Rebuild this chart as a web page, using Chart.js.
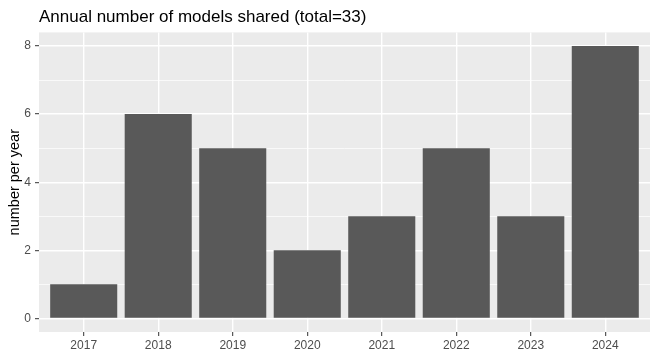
<!DOCTYPE html>
<html>
<head>
<meta charset="utf-8">
<script src="https://cdn.jsdelivr.net/npm/chart.js@4/dist/chart.umd.min.js"></script>
<style>html,body{margin:0;padding:0;background:#fff;}canvas{display:block;}</style>
</head>
<body>
<canvas id="c" width="658" height="358"></canvas>
<script>
const years = [2017, 2018, 2019, 2020, 2021, 2022, 2023, 2024];
const counts = [1, 6, 5, 2, 3, 5, 3, 8];
const yTicks = [0, 1, 2, 3, 4, 5, 6, 7, 8];
const titleText = 'Annual number of models shared (total=33)';
const yTitle = 'number per year';

const bgPlugin = {
  id: 'bg',
  beforeDraw(chart) {
    const {ctx, chartArea: a} = chart;
    ctx.save();
    ctx.fillStyle = '#ffffff';
    ctx.fillRect(0, 0, chart.width, chart.height);
    ctx.fillStyle = '#EBEBEB';
    ctx.fillRect(a.left, a.top, a.right - a.left, a.bottom - a.top);
    ctx.restore();
  }
};

new Chart(document.getElementById('c'), {
  type: 'bar',
  data: {
    datasets: [{
      data: years.map((y, i) => ({x: y, y: counts[i]})),
      backgroundColor: '#595959',
      borderWidth: 0,
      barPercentage: 0.9,
      categoryPercentage: 1.0
    }]
  },
  options: {
    responsive: false,
    devicePixelRatio: 1,
    animation: false,
    layout: {padding: {left: 0, right: 8, top: 0, bottom: 0}},
    plugins: {
      legend: {display: false},
      tooltip: {enabled: false},
      title: {
        display: true,
        text: titleText,
        align: 'start',
        fullSize: false,
        color: '#000000',
        font: {family: 'Liberation Sans', size: 17, weight: 'normal', lineHeight: 1.2},
        padding: {top: 7, bottom: 5}
      }
    },
    scales: {
      x: {
        type: 'linear',
        min: 2016.4,
        max: 2024.6,
        offset: false,
        afterBuildTicks(s) { s.ticks = years.map(v => ({value: v})); },
        afterFit(s) { s.height = 26; },
        ticks: {
          color: '#4D4D4D',
          font: {family: 'Liberation Sans', size: 12},
          padding: 2,
          maxRotation: 0,
          autoSkip: false,
          callback: v => String(v)
        },
        grid: {
          offset: false,
          color: '#ffffff',
          lineWidth: 1.4,
          tickColor: '#333333',
          tickLength: 4,
          tickWidth: 1
        },
        border: {display: false}
      },
      y: {
        type: 'linear',
        min: -0.4,
        max: 8.4,
        afterBuildTicks(s) { s.ticks = yTicks.map(v => ({value: v})); },
        afterFit(s) { s.width = 39; },
        ticks: {
          color: '#4D4D4D',
          font: {family: 'Liberation Sans', size: 12},
          padding: 4,
          autoSkip: false,
          callback: v => (v % 2 === 0 ? String(v) : '')
        },
        grid: {
          color: '#ffffff',
          lineWidth: ctx => (ctx.tick && ctx.tick.value % 2 === 0 ? 1.4 : 0.7),
          tickColor: ctx => (ctx.tick && ctx.tick.value % 2 === 0 ? '#333333' : 'rgba(0,0,0,0)'),
          tickLength: 4,
          tickWidth: 1
        },
        border: {display: false},
        title: {
          display: true,
          text: yTitle,
          color: '#000000',
          font: {family: 'Liberation Sans', size: 14.5},
          padding: {top: 6, bottom: 0}
        }
      }
    }
  },
  plugins: [bgPlugin]
});
</script>
</body>
</html>
